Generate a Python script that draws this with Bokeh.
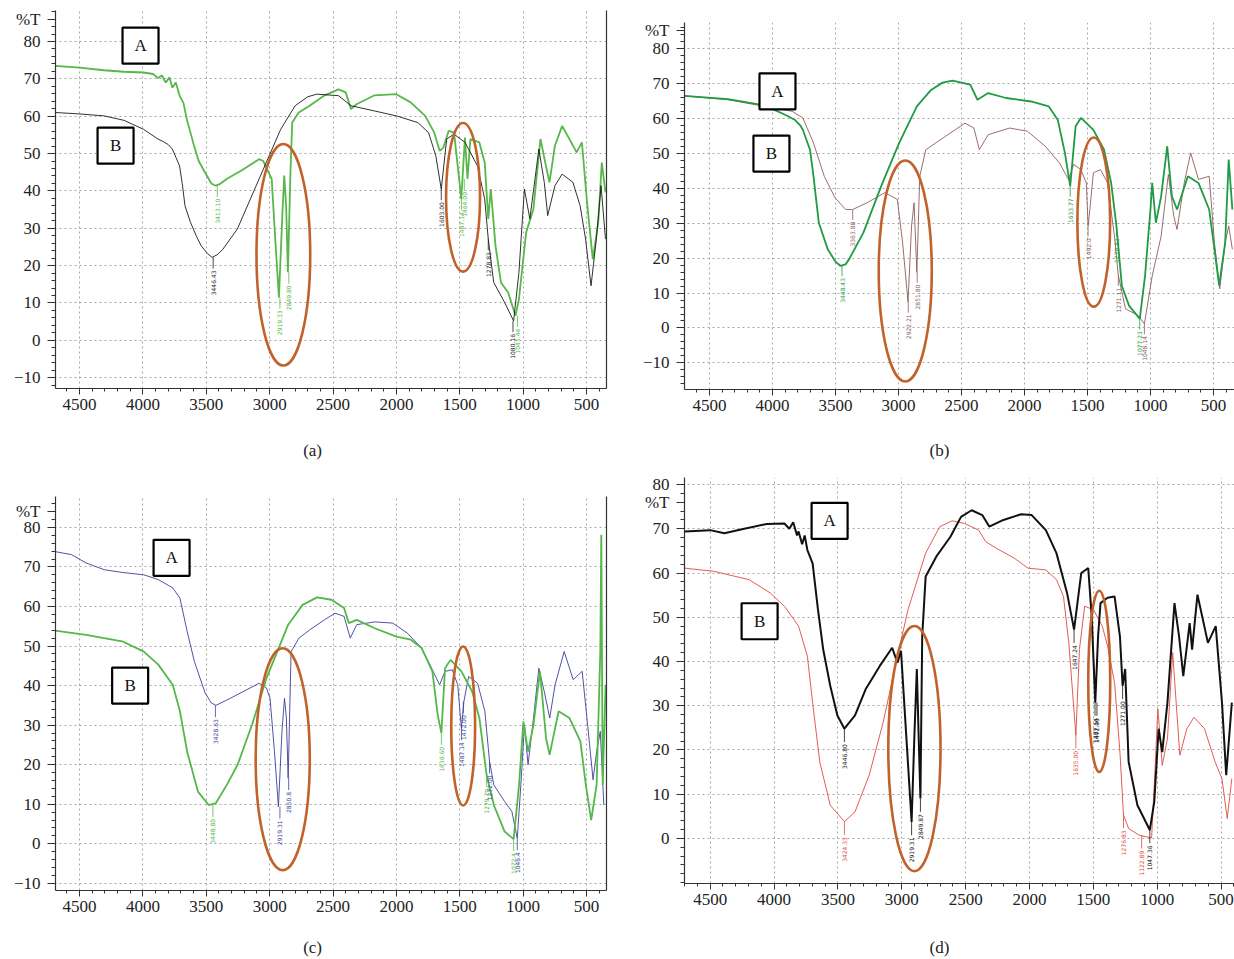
import math
from bokeh.plotting import figure
from bokeh.models import Range1d, FixedTicker, LinearAxis
from bokeh.layouts import row, column
from bokeh.embed import file_html
from bokeh.resources import INLINE
from bokeh.core.properties import value

# ---------------- data (wavenumber cm-1, %T) ----------------
XTICKS = [4500, 4000, 3500, 3000, 2500, 2000, 1500, 1000, 500]
XMINOR = list(range(300, 4800, 100))
YTICKS_ABC = [-10, 0, 10, 20, 30, 40, 50, 60, 70, 80]
YTICKS_D = [0, 10, 20, 30, 40, 50, 60, 70, 80]
YMINOR = list(range(-20, 90, 2))
CAPTIONS = ["(a)", "(b)", "(c)", "(d)"]

# panel (a)
a_A = [(4694,73.5),(4500,73.0),(4309,72.3),(4150,71.9),(3996,71.7),(3920,71.3),(3882,70.2),(3850,70.9),
       (3820,69.0),(3790,70.4),(3768,67.6),(3740,69.0),(3711,65.5),(3680,63.5),(3654,59.2),(3620,55.0),
       (3597,52.1),(3560,48.0),(3511,45.0),(3460,42.0),(3426,41.4),(3390,41.9),(3340,43.2),(3226,45.4),
       (3130,47.5),(3084,48.5),(3050,48.0),(3027,46.3),(2984,43.2),(2956,27.1),(2927,11.5),(2899,34.3),
       (2885,44.1),(2870,36.0),(2856,18.2),(2836,44.9),(2822,58.3),(2771,61.0),(2685,62.8),(2571,65.5),
       (2457,67.2),(2400,66.4),(2358,61.9),(2315,63.2),(2172,65.6),(2001,65.9),(1887,63.7),(1773,60.1),
       (1701,55.6),(1658,50.7),(1629,51.6),(1587,56.1),(1545,55.6),(1502,42.3),(1488,37.8),(1459,54.3),
       (1439,43.2),(1416,53.9),(1346,53.0),(1303,47.6),(1275,32.5),(1255,40.5),(1218,25.3),(1175,15.5),
       (1118,12.8),(1060,6.6),(1033,11.0),(976,28.9),(919,35.1),(863,53.9),(820,46.7),(792,42.3),
       (749,52.1),(692,57.4),(635,53.9),(578,50.3),(536,53.0),(493,36.0),(450,21.7),(407,31.6),
       (379,47.6),(350,39.6)]
a_B = [(4694,61.0),(4500,60.6),(4309,60.1),(4150,58.9),(3996,56.5),(3882,53.9),(3840,53.2),(3800,52.4),
       (3768,51.2),(3740,49.0),(3711,46.7),(3690,42.0),(3668,36.0),(3625,31.6),(3580,28.0),(3540,25.3),
       (3490,23.2),(3454,22.2),(3410,23.0),(3369,24.4),(3255,29.8),(3141,38.7),(3027,47.6),(2913,56.5),
       (2799,62.8),(2700,65.2),(2628,65.9),(2457,65.5),(2358,62.8),(2172,61.4),(2001,60.1),(1831,58.3),
       (1746,55.6),(1689,49.4),(1646,40.5),(1603,53.9),(1545,55.2),(1459,53.0),(1360,46.7),(1303,37.8),
       (1275,27.1),(1232,15.5),(1147,10.2),(1075,5.2),(1033,18.2),(990,40.5),(947,32.5),(876,51.2),
       (833,42.3),(806,33.4),(749,41.4),(692,44.5),(607,42.3),(550,36.0),(507,27.1),(464,14.6),
       (422,27.1),(385,41.4),(350,27.1)]
a_A_peaks = [(3413,41.4,"3413.10"),(2919,11.5,"2919.33"),(2849,18.2,"2849.80"),(1487,37.8,"1487.14"),
             (1464,43.2,"1464.00"),(1045,6.6,"1045.44")]
a_B_peaks = [(3446,22.2,"3446.43"),(1646,40.5,"1603.00"),(1275,27.1,"1278.83"),(1080,5.2,"1080.16")]
a_ellipses = [(2892,22.9,424,59.3),(1474,38.3,268,39.8)]
a_boxes = [(4019,78.9,"A"),(4216,52.1,"B")]

# panel (b)
b_A = [(4698,66.4),(4353,65.5),(4098,63.9),(3985,62.4),(3930,61.5),(3872,60.5),(3820,59.5),(3780,58.0),
       (3759,56.7),(3702,51.0),(3674,43.4),(3632,30.1),(3561,22.5),(3500,19.0),(3462,17.8),(3420,18.2),
       (3391,19.7),(3278,27.3),(3137,40.6),(2995,52.9),(2854,63.4),(2741,68.1),(2650,70.2),(2571,70.8),
       (2430,69.6),(2373,65.3),(2288,67.2),(2147,65.8),(1948,64.8),(1807,63.4),(1736,59.6),(1679,50.1),
       (1637,40.6),(1594,57.7),(1552,60.1),(1453,56.7),(1368,51.0),(1312,41.5),(1270,29.2),(1227,12.1),
       (1170,6.4),(1085,2.6),(1043,14.9),(1000,33.9),(986,41.5),(957,30.1),(915,37.7),(867,52.0),
       (830,37.7),(789,33.9),(703,43.4),(619,41.5),(534,33.9),(492,22.5),(455,12.1),(407,24.4),
       (379,48.2),(350,33.9)]
b_B = [(4698,66.4),(4353,65.3),(3985,62.9),(3844,62.0),(3759,60.1),(3674,52.9),(3589,43.4),(3504,37.3),
       (3419,33.9),(3363,33.9),(3250,35.8),(3108,38.7),(3009,36.8),(2967,24.4),(2924,7.4),(2896,29.2),
       (2876,35.8),(2854,15.9),(2831,43.4),(2783,51.0),(2628,54.8),(2472,58.6),(2401,57.2),(2358,51.0),
       (2288,55.3),(2118,57.2),(1977,56.3),(1835,52.0),(1722,47.2),(1651,42.5),(1609,46.8),(1552,45.3),
       (1509,41.5),(1495,29.2),(1481,33.9),(1453,44.4),(1396,45.3),(1340,41.5),(1283,25.4),(1255,15.0),
       (1198,5.5),(1099,3.6),(1048,1.2),(986,14.9),(915,26.3),(858,43.9),(815,32.0),(789,28.2),
       (732,41.5),(681,50.1),(619,42.5),(534,43.4),(492,24.4),(450,11.2),(407,24.4),(379,29.2),(350,22.5)]
b_A_peaks = [(3448,17.8,"3448.43"),(1637,40.6,"1633.77"),(1270,29.2,"1278.83"),(1085,2.6,"1077.23")]
b_B_peaks = [(3363,33.9,"3363.88"),(2922,7.4,"2922.21"),(2851,15.9,"2851.80"),(1495,29.2,"1492.0"),
             (1255,15.0,"1271.11"),(1048,1.2,"1048.14")]
b_ellipses = [(2946,16.3,421,63.2),(1450,30.3,260,48.4)]
b_boxes = [(3960,67.7,"A"),(4008,49.9,"B")]

# panel (c)
c_A = [(4699,73.9),(4563,73.1),(4449,71.0),(4306,69.3),(4164,68.6),(3993,68.0),(3879,66.8),(3765,64.7),
       (3708,62.1),(3651,53.7),(3594,46.1),(3509,38.1),(3460,35.6),(3424,35.0),(3310,36.8),(3196,38.7),
       (3082,40.6),(3025,39.4),(2997,36.8),(2962,23.3),(2931,9.4),(2903,28.4),(2883,36.8),(2868,31.8),
       (2854,16.6),(2831,48.6),(2769,52.0),(2683,54.1),(2569,56.6),(2484,58.3),(2413,57.5),(2364,52.0),
       (2313,55.4),(2171,56.1),(2029,55.8),(1915,53.3),(1801,49.5),(1716,44.0),(1659,40.2),(1616,43.6),
       (1559,44.0),(1516,40.2),(1487,29.2),(1467,36.0),(1430,42.3),(1359,40.6),(1302,33.5),(1265,20.8),
       (1231,14.9),(1146,10.7),(1089,8.2),(1046,1.4),(1018,14.9),(989,30.1),(961,20.0),(918,31.8),
       (876,44.4),(833,38.5),(790,31.8),(748,40.2),(676,48.6),(605,41.5),(534,43.6),(491,30.1),
       (448,16.2),(420,23.3),(391,28.4),(363,9.8)]
c_B = [(4699,53.9),(4449,52.8),(4164,51.2),(3993,48.6),(3879,45.3),(3765,40.2),(3708,33.5),(3651,23.3),
       (3566,13.2),(3481,9.8),(3424,10.3),(3338,14.9),(3253,20.0),(3139,30.1),(3025,41.9),(2940,48.6),
       (2854,55.4),(2740,60.4),(2626,62.3),(2512,61.7),(2413,59.6),(2376,55.8),(2313,56.6),(2171,54.5),
       (2000,52.4),(1886,51.6),(1801,49.5),(1716,43.6),(1674,32.6),(1645,28.0),(1616,44.4),(1573,46.5),
       (1487,43.6),(1402,38.5),(1345,31.8),(1288,17.4),(1231,9.8),(1146,3.1),(1075,1.2),(1032,14.9),
       (998,30.9),(961,23.3),(918,30.1),(867,43.6),(819,26.7),(791,22.5),(720,33.5),(634,31.8),
       (548,25.9),(505,14.9),(463,6.0),(420,14.9),(391,48.6),(383,78.1),(372,14.9),(349,40.2)]
c_A_peaks = [(3428,35.0,"3428.63"),(2919,9.4,"2919.31"),(2850,16.6,"2850.8"),(1487,29.2,"1487.14"),
             (1472,36.0,"1472.00"),(1265,20.8,"1272.00"),(1046,1.4,"1046.4")]
c_B_peaks = [(3448,9.8,"3448.80"),(1645,28.0,"1636.60"),(1288,17.4,"1279.79"),(1075,1.2,"1072.4")]
c_ellipses = [(2897,21.4,427,56.1),(1473,29.8,188,40.2)]
c_boxes = [(3774,72.3,"A"),(4101,40.0,"B")]

# panel (d)
d_A = [(4699,69.4),(4500,69.7),(4389,69.0),(4251,69.9),(4057,71.1),(3919,71.2),(3880,70.0),(3850,71.5),
       (3820,68.5),(3808,69.4),(3780,66.5),(3760,68.5),(3739,65.2),(3698,62.2),(3656,51.7),(3615,42.7),
       (3560,34.5),(3504,27.8),(3449,24.8),(3366,27.8),(3283,33.7),(3172,39.0),(3075,43.1),(3034,39.7),
       (3006,42.4),(2965,23.3),(2923,3.7),(2901,23.3),(2882,38.3),(2868,23.3),(2854,9.0),(2840,45.7),
       (2813,59.2),(2730,63.7),(2619,68.2),(2536,72.7),(2453,74.2),(2370,73.1),(2315,70.5),(2204,72.0),
       (2066,73.3),(1983,73.1),(1872,69.7),(1789,64.5),(1706,55.5),(1651,47.2),(1595,60.0),(1540,61.1),
       (1513,50.2),(1485,30.7),(1463,45.7),(1444,53.2),(1389,54.4),(1334,54.7),(1292,45.7),(1271,34.5),
       (1251,38.3),(1224,17.3),(1155,7.5),(1058,1.9),(1023,8.3),(989,24.8),(961,19.5),(920,30.7),
       (865,53.2),(829,45.7),(796,36.7),(746,48.7),(727,42.7),(685,55.1),(603,44.2),(542,48.0),
       (493,30.7),(460,14.3),(416,30.7)]
d_B = [(4699,61.1),(4472,60.4),(4196,58.5),(4030,55.5),(3919,52.5),(3808,48.0),(3739,41.2),(3698,30.7),
       (3642,17.3),(3560,7.5),(3449,3.8),(3366,6.0),(3255,14.3),(3145,26.3),(3034,41.2),(2951,51.7),
       (2813,64.5),(2702,70.5),(2605,71.8),(2508,71.2),(2398,69.7),(2343,67.1),(2260,65.6),(2121,63.4),
       (2011,61.1),(1872,60.7),(1789,58.5),(1734,54.7),(1692,44.2),(1637,23.3),(1609,42.7),(1568,52.5),
       (1499,51.7),(1430,48.0),(1389,43.5),(1334,35.2),(1292,19.5),(1264,5.3),(1223,2.2),(1140,0.7),
       (1044,0.1),(1017,15.8),(995,29.3),(961,16.5),(920,22.5),(879,42.0),(823,18.8),(768,24.8),
       (712,27.4),(630,24.8),(547,17.3),(493,13.5),(452,4.5),(416,13.5)]
d_A_peaks = [(3449,24.8,"3446.80"),(2923,3.7,"2919.31"),(2854,9.0,"2849.87"),(1651,47.2,"1647.24"),
             (1487,30.7,"1487.14"),(1472,30.7,"1472.00"),(1271,34.5,"1271.00"),(1058,1.9,"1047.36")]
d_B_peaks = [(3449,3.8,"3424.33"),(1637,23.3,"1635.00"),(1264,5.3,"1276.83"),(1122,0.7,"1122.89")]
d_ellipses = [(2901,20.3,409,55.5),(1454,35.5,172,41.0)]
d_boxes = [(3565,71.8,"A"),(4113,49.1,"B")]

# ---------------- styling ----------------
SERIF = "Liberation Serif"
ORANGE = "#c2622b"
GRID = "#a8a8a8"


def build(w, h, mbl, mbr, mbt, mbb, xr, yr, yticks, right_axis,
          curves, peaks, ellipses, boxes, pct_y):
    p = figure(width=w, height=h, x_range=Range1d(*xr), y_range=Range1d(*yr),
               output_backend="svg", toolbar_location=None,
               min_border_left=mbl, min_border_right=mbr,
               min_border_top=mbt, min_border_bottom=mbb)
    p.outline_line_color = None
    p.background_fill_color = "white"
    p.border_fill_color = "white"

    p.xaxis.ticker = FixedTicker(ticks=XTICKS, minor_ticks=XMINOR)
    p.yaxis.ticker = FixedTicker(ticks=yticks + [pct_y], minor_ticks=YMINOR)
    p.yaxis.major_label_overrides = {pct_y: "%T"}
    p.xgrid.ticker = FixedTicker(ticks=XTICKS)
    p.ygrid.ticker = FixedTicker(ticks=yticks)
    for g in (p.xgrid, p.ygrid):
        g.grid_line_color = GRID
        g.grid_line_dash = "2 3"
        g.grid_line_width = 1
    for ax in (p.xaxis, p.yaxis):
        ax.axis_line_color = "#333333"
        ax.axis_line_width = 1.2
        ax.major_tick_line_color = "#333333"
        ax.minor_tick_line_color = "#333333"
        ax.major_tick_in = 0
        ax.minor_tick_in = 0
        ax.major_label_text_font = SERIF
        ax.major_label_text_font_size = "17px"
        ax.major_label_text_color = "#222222"
    p.xaxis.major_tick_out = 6
    p.xaxis.minor_tick_out = 3
    p.xaxis.major_label_standoff = 4
    p.yaxis.major_tick_out = 8
    p.yaxis.minor_tick_out = 4
    p.yaxis.major_label_standoff = 7

    if right_axis:
        ra = LinearAxis(ticker=FixedTicker(ticks=[]), major_tick_line_color=None,
                        minor_tick_line_color=None, axis_line_color="#333333",
                        axis_line_width=1.2, major_label_text_font_size="0px")
        p.add_layout(ra, "right")

    for pts, color, lw in curves:
        p.line([q[0] for q in pts], [q[1] for q in pts], line_color=color, line_width=lw)

    for pk, color in peaks:
        xs = [q[0] for q in pk]
        ys = [q[1] for q in pk]
        p.segment(x0=xs, y0=ys, x1=xs, y1=[v - 3 for v in ys], line_color=color, line_width=0.8)
        p.text(x=xs, y=[v - 3.5 for v in ys], text=[q[2] for q in pk], angle=math.pi / 2,
               text_align="right", text_baseline="middle", text_font_size="6px",
               text_font=value("DejaVu Sans"), text_color=color)

    p.ellipse(x=[e[0] for e in ellipses], y=[e[1] for e in ellipses],
              width=[e[2] for e in ellipses], height=[e[3] for e in ellipses],
              fill_color=None, line_color=ORANGE, line_width=2.6)

    bx = [b[0] for b in boxes]
    by = [b[1] for b in boxes]
    p.rect(x=bx, y=by, width=36, height=36, width_units="screen", height_units="screen",
           fill_color="white", line_color="black", line_width=2.2)
    p.text(x=bx, y=by, text=[b[2] for b in boxes], text_align="center", text_baseline="middle",
           text_font=value(SERIF), text_font_size="17px", text_color="#111111")
    return p


def caption_strip(w, h, caption, cx, cy):
    # a bare strip; its coordinates are (roughly) pixels from its top-left
    c = figure(width=w, height=h, x_range=Range1d(0, w), y_range=Range1d(h, 0),
               output_backend="svg", toolbar_location=None, x_axis_type=None, y_axis_type=None,
               min_border_left=0, min_border_right=0, min_border_top=0, min_border_bottom=0)
    c.outline_line_color = None
    c.grid.visible = False
    c.border_fill_color = "white"
    c.text(x=[cx], y=[cy], text=[caption], text_align="center", text_baseline="middle",
           text_font=value(SERIF), text_font_size="17px", text_color="#222222")
    return c


pa = build(628, 430, 55, 22, 10, 42, (4690, 342), (-12.9, 88.3), YTICKS_ABC, True,
           [(a_A, "#55b848", 1.8), (a_B, "#1a1a1a", 0.9)],
           [(a_A_peaks, "#55b848"), (a_B_peaks, "#1a1a1a")],
           a_ellipses, a_boxes, 86)
cap_a = caption_strip(628, 56, CAPTIONS[0], 293, 20)

pc = build(628, 452, 55, 22, 10, 48, (4690, 342), (-11.8, 87.8), YTICKS_ABC, True,
           [(c_A, "#3b3f98", 0.9), (c_B, "#52b848", 1.8)],
           [(c_A_peaks, "#3b3f98"), (c_B_peaks, "#52b848")],
           c_ellipses, c_boxes, 84)
cap_c = caption_strip(628, 21, CAPTIONS[2], 293, 9)

pb = build(606, 430, 56, 0, 22, 41, (4698, 333), (-17.6, 87.4), YTICKS_ABC, False,
           [(b_B, "#8e5c5c", 0.9), (b_A, "#1f9a45", 1.8)],
           [(b_A_peaks, "#1f9a45"), (b_B_peaks, "#8e5c5c")],
           b_ellipses, b_boxes, 85)
cap_b = caption_strip(606, 40, CAPTIONS[1], 281, 20)

pd_ = build(606, 466, 48, 0, 7, 53, (4701, 395), (-10.2, 81.6), YTICKS_D, False,
            [(d_B, "#e04a3f", 0.9), (d_A, "#111111", 2.0)],
            [(d_A_peaks, "#111111"), (d_B_peaks, "#e04a3f")],
            d_ellipses, d_boxes, 76)
cap_d = caption_strip(606, 23, CAPTIONS[3], 281, 11)

layout = row(column(pa, cap_a, pc, cap_c), column(pb, cap_b, pd_, cap_d))
open("out.html", "w").write(file_html(layout, INLINE))
